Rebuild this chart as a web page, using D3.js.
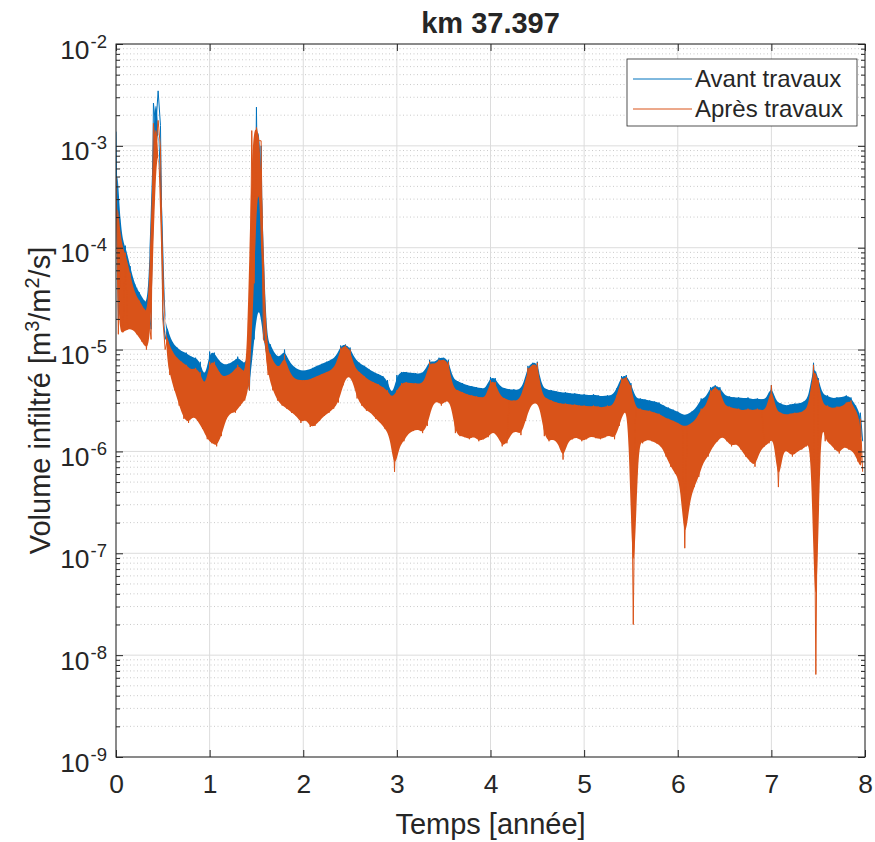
<!DOCTYPE html>
<html>
<head>
<meta charset="utf-8">
<script src="https://cdn.jsdelivr.net/npm/d3@7"></script>
<style>
  body { margin: 0; background: #fff; }
  text { font-family: "Liberation Sans", Arial, sans-serif; fill: #262626; }
</style>
</head>
<body>
<svg id="chart" width="875" height="842"></svg>
<script>
// Time axis: one bin every 0.05 year, from 0 to 8 years
const binWidth = 0.05;
const nBins = 160;

// log10 of the infiltrated volume [m3/m2/s], per-bin extremes (max, min)
const avantLogMax = [
  -2.86, -3.88, -3.98, -4.18, -4.36, -4.44, -4.52, -4.58, -2.58, -2.46,
  -4.62, -4.80, -4.93, -4.98, -5.02, -5.03, -5.07, -5.08, -5.12, -5.30,
  -5.02, -5.03, -5.11, -5.15, -5.14, -5.12, -5.07, -5.12, -5.15, -4.65,
  -2.62, -3.00, -4.88, -4.95, -5.05, -5.08, -5.00, -5.12, -5.17, -5.20,
  -5.21, -5.20, -5.18, -5.16, -5.14, -5.12, -5.10, -5.07, -4.96, -4.95,
  -4.98, -5.09, -5.13, -5.16, -5.19, -5.22, -5.24, -5.26, -5.30, -5.47,
  -5.25, -5.22, -5.22, -5.23, -5.23, -5.24, -5.21, -5.10, -5.13, -5.08,
  -5.08, -5.10, -5.29, -5.31, -5.33, -5.35, -5.36, -5.37, -5.38, -5.38,
  -5.27, -5.28, -5.36, -5.38, -5.39, -5.39, -5.40, -5.35, -5.16, -5.13,
  -5.12, -5.37, -5.39, -5.40, -5.41, -5.42, -5.42, -5.43, -5.43, -5.44,
  -5.44, -5.45, -5.44, -5.45, -5.46, -5.45, -5.45, -5.38, -5.26, -5.25,
  -5.33, -5.48, -5.48, -5.49, -5.50, -5.51, -5.52, -5.55, -5.57, -5.59,
  -5.61, -5.64, -5.64, -5.61, -5.57, -5.48, -5.47, -5.37, -5.35, -5.37,
  -5.45, -5.46, -5.47, -5.47, -5.48, -5.47, -5.49, -5.48, -5.49, -5.48,
  -5.35, -5.51, -5.53, -5.55, -5.54, -5.53, -5.53, -5.51, -5.47, -5.13,
  -5.28, -5.45, -5.45, -5.48, -5.47, -5.47, -5.45, -5.47, -5.55, -5.62
];
const avantLogMin = [
  -4.70, -4.70, -4.65, -4.68, -4.72, -4.78, -4.85, -4.80, -2.82, -2.80,
  -4.90, -5.12, -5.25, -5.30, -5.35, -5.38, -5.40, -5.40, -5.45, -5.55,
  -5.40, -5.42, -5.42, -5.45, -5.42, -5.40, -5.38, -5.40, -5.40, -4.90,
  -4.50, -4.90, -5.15, -5.25, -5.32, -5.35, -5.35, -5.40, -5.45, -5.48,
  -5.48, -5.50, -5.48, -5.45, -5.42, -5.40, -5.38, -5.35, -5.25, -5.20,
  -5.22, -5.35, -5.40, -5.42, -5.45, -5.48, -5.50, -5.52, -5.55, -5.65,
  -5.55, -5.50, -5.50, -5.50, -5.50, -5.52, -5.50, -5.40, -5.38, -5.38,
  -5.38, -5.40, -5.55, -5.58, -5.60, -5.62, -5.62, -5.64, -5.64, -5.64,
  -5.55, -5.58, -5.62, -5.64, -5.65, -5.65, -5.66, -5.62, -5.45, -5.42,
  -5.42, -5.65, -5.66, -5.68, -5.68, -5.70, -5.70, -5.70, -5.70, -5.72,
  -5.72, -5.72, -5.72, -5.73, -5.73, -5.72, -5.73, -5.65, -5.55, -5.55,
  -6.40, -5.75, -5.76, -5.76, -5.77, -5.78, -5.80, -5.82, -5.85, -5.88,
  -5.90, -5.92, -5.92, -5.90, -5.86, -5.78, -5.76, -5.70, -5.68, -5.70,
  -5.74, -5.75, -5.76, -5.76, -5.78, -5.78, -5.80, -5.78, -5.78, -5.77,
  -5.70, -5.80, -5.82, -5.84, -5.83, -5.82, -5.82, -5.80, -5.76, -5.50,
  -5.55, -5.74, -5.75, -5.78, -5.78, -5.77, -5.76, -5.78, -5.85, -5.90
];
const apresLogMax = [
  -3.31, -3.95, -4.05, -4.25, -4.45, -4.52, -4.60, -4.68, -2.78, -2.75,
  -4.70, -4.90, -5.02, -5.08, -5.12, -5.15, -5.20, -5.18, -5.22, -5.38,
  -5.12, -5.12, -5.22, -5.27, -5.25, -5.22, -5.15, -5.20, -5.25, -2.85,
  -2.82, -2.95, -4.95, -5.05, -5.15, -5.18, -5.05, -5.22, -5.28, -5.30,
  -5.30, -5.30, -5.28, -5.26, -5.24, -5.22, -5.20, -5.15, -4.98, -4.96,
  -5.00, -5.18, -5.22, -5.26, -5.30, -5.32, -5.34, -5.37, -5.40, -5.48,
  -5.40, -5.33, -5.32, -5.33, -5.33, -5.34, -5.30, -5.12, -5.15, -5.10,
  -5.10, -5.12, -5.38, -5.40, -5.42, -5.44, -5.45, -5.46, -5.47, -5.47,
  -5.30, -5.32, -5.45, -5.48, -5.50, -5.50, -5.50, -5.40, -5.18, -5.15,
  -5.13, -5.45, -5.48, -5.50, -5.52, -5.53, -5.53, -5.54, -5.54, -5.55,
  -5.55, -5.56, -5.55, -5.56, -5.57, -5.55, -5.56, -5.45, -5.28, -5.27,
  -5.35, -5.58, -5.58, -5.60, -5.60, -5.62, -5.63, -5.66, -5.68, -5.70,
  -5.72, -5.75, -5.75, -5.72, -5.68, -5.58, -5.56, -5.40, -5.37, -5.40,
  -5.55, -5.56, -5.58, -5.58, -5.60, -5.58, -5.60, -5.58, -5.60, -5.58,
  -5.35, -5.60, -5.62, -5.64, -5.63, -5.62, -5.62, -5.60, -5.55, -5.15,
  -5.30, -5.55, -5.55, -5.58, -5.56, -5.56, -5.52, -5.50, -5.60, -5.68
];
const apresLogMin = [
  -4.85, -4.83, -4.80, -4.80, -4.85, -4.92, -5.00, -4.90, -3.05, -3.02,
  -5.00, -5.25, -5.40, -5.55, -5.68, -5.72, -5.65, -5.70, -5.78, -5.88,
  -5.92, -5.95, -5.85, -5.68, -5.62, -5.62, -5.55, -5.50, -5.40, -4.35,
  -2.95, -4.90, -5.25, -5.40, -5.50, -5.55, -5.58, -5.62, -5.65, -5.72,
  -5.68, -5.76, -5.75, -5.70, -5.65, -5.62, -5.58, -5.52, -5.35, -5.25,
  -5.30, -5.48, -5.55, -5.60, -5.62, -5.68, -5.72, -5.78, -5.85, -6.20,
  -5.95, -5.90, -5.82, -5.80, -5.78, -5.82, -5.75, -5.55, -5.50, -5.55,
  -5.50, -5.52, -5.82, -5.85, -5.86, -5.88, -5.85, -5.90, -5.88, -5.86,
  -5.80, -5.85, -5.95, -5.92, -5.82, -5.80, -5.84, -5.70, -5.55, -5.52,
  -5.55, -5.85, -5.90, -5.88, -5.92, -6.08, -5.90, -5.88, -5.86, -5.90,
  -5.88, -5.85, -5.87, -5.88, -5.86, -5.84, -5.88, -5.75, -5.60, -5.62,
  -7.70, -5.90, -5.92, -5.88, -5.90, -5.92, -5.95, -6.05, -6.15, -6.22,
  -6.30, -6.95, -6.50, -6.35, -6.25, -6.10, -6.05, -5.95, -5.90, -5.85,
  -5.90, -5.95, -5.92, -5.98, -6.05, -6.10, -6.15, -6.00, -5.95, -5.92,
  -5.85, -6.35, -5.98, -6.00, -6.05, -6.00, -5.98, -5.95, -5.90, -8.19,
  -5.62, -5.90, -5.92, -5.98, -6.02, -5.95, -5.98, -6.00, -6.10, -6.20
];

const xTicks = [0, 1, 2, 3, 4, 5, 6, 7, 8];
const yDecades = [-9, -8, -7, -6, -5, -4, -3, -2];
const seriesNames = ["Avant travaux", "Après travaux"];
const seriesColors = ["#0072BD", "#D95319"];

const m = { left: 116, right: 865, top: 44, bottom: 757 };

const svg = d3.select("#chart");
const x = d3.scaleLinear().domain([0, 8]).range([m.left, m.right]);
const y = d3.scaleLog().domain([1e-9, 1e-2]).range([m.bottom, m.top]);

const majorY = yDecades.map(e => Math.pow(10, e));
const minorY = [];
yDecades.slice(0, -1).forEach(e => {
  for (let k = 2; k <= 9; k++) minorY.push(k * Math.pow(10, e));
});

// grid
const grid = svg.append("g");
grid.selectAll(".gmin").data(minorY).join("line")
  .attr("x1", m.left).attr("x2", m.right)
  .attr("y1", d => y(d)).attr("y2", d => y(d))
  .attr("stroke", "#bdbdbd").attr("stroke-width", 0.8)
  .attr("stroke-dasharray", "1,2.5");
grid.selectAll(".gmaj").data(majorY).join("line")
  .attr("x1", m.left).attr("x2", m.right)
  .attr("y1", d => y(d)).attr("y2", d => y(d))
  .attr("stroke", "#dcdcdc").attr("stroke-width", 1);
grid.selectAll(".gx").data(xTicks).join("line")
  .attr("x1", d => x(d)).attr("x2", d => x(d))
  .attr("y1", m.top).attr("y2", m.bottom)
  .attr("stroke", "#dcdcdc").attr("stroke-width", 1);

// trace: each bin contributes its max then its min, half a bin apart
function binPoints(maxArr, minArr) {
  const pts = [];
  for (let i = 0; i < nBins; i++) {
    const t = i * binWidth;
    pts.push([t, Math.pow(10, maxArr[i])]);
    pts.push([t + binWidth / 2, Math.pow(10, minArr[i])]);
  }
  return pts;
}
// envelope outline: max points forward, min points backward
function bandPoints(maxArr, minArr) {
  const upper = [], lower = [];
  for (let i = 0; i < nBins; i++) {
    const t = i * binWidth;
    upper.push([t, Math.pow(10, maxArr[i])]);
    lower.push([t + binWidth / 2, Math.pow(10, minArr[i])]);
  }
  return upper.concat(lower.reverse());
}
const series = [
  { trace: binPoints(avantLogMax, avantLogMin), band: bandPoints(avantLogMax, avantLogMin) },
  { trace: binPoints(apresLogMax, apresLogMin), band: bandPoints(apresLogMax, apresLogMin) }
];

svg.append("clipPath").attr("id", "plotclip")
  .append("rect").attr("x", m.left).attr("y", m.top)
  .attr("width", m.right - m.left).attr("height", m.bottom - m.top);

const line = d3.line().x(d => x(d[0])).y(d => y(d[1]));
// dense core of the signal: a smoothed outline that stays inside the extremes
const core = d3.line().x(d => x(d[0])).y(d => y(d[1])).curve(d3.curveBasisClosed);
const plot = svg.append("g").attr("clip-path", "url(#plotclip)");
series.forEach((s, i) => {
  plot.append("path")
    .attr("d", core(s.band))
    .attr("fill", seriesColors[i])
    .attr("stroke", "none");
  plot.append("path")
    .attr("d", line(s.trace))
    .attr("fill", "none")
    .attr("stroke", seriesColors[i])
    .attr("stroke-width", 1)
    .attr("stroke-linejoin", "round");
});

// axes
const axisColor = "#262626";
function styleAxis(g) {
  g.select(".domain").remove();
  g.selectAll(".tick line").attr("stroke", axisColor).attr("stroke-width", 1);
}
svg.append("g").attr("transform", `translate(0,${m.bottom})`)
  .call(d3.axisBottom(x).tickValues(xTicks).tickSize(-7).tickFormat(d3.format("d")))
  .call(styleAxis)
  .call(g => g.selectAll("text").attr("font-size", 26.4).attr("fill", axisColor)
    .attr("dy", null).attr("y", 36));
svg.append("g").attr("transform", `translate(0,${m.top})`)
  .call(d3.axisTop(x).tickValues(xTicks).tickSize(-7).tickFormat(""))
  .call(styleAxis);

const yLeft = svg.append("g").attr("transform", `translate(${m.left},0)`)
  .call(d3.axisLeft(y).tickValues(majorY).tickSize(-7).tickPadding(9).tickFormat(""))
  .call(styleAxis);
yLeft.selectAll(".tick text")
  .attr("font-size", 26.4).attr("fill", axisColor).attr("dy", null).attr("y", 14)
  .attr("text-anchor", "end")
  .each(function (d) {
    const t = d3.select(this);
    t.append("tspan").text("10");
    t.append("tspan").attr("font-size", 18.5).attr("dy", -11).attr("dx", 1)
      .text(String(Math.round(Math.log10(d))));
  });
svg.append("g").attr("transform", `translate(${m.left},0)`)
  .call(d3.axisLeft(y).tickValues(minorY).tickSize(-4).tickFormat(""))
  .call(styleAxis);
svg.append("g").attr("transform", `translate(${m.right},0)`)
  .call(d3.axisRight(y).tickValues(majorY).tickSize(-7).tickFormat(""))
  .call(styleAxis);
svg.append("g").attr("transform", `translate(${m.right},0)`)
  .call(d3.axisRight(y).tickValues(minorY).tickSize(-4).tickFormat(""))
  .call(styleAxis);

// box
svg.append("rect").attr("x", m.left).attr("y", m.top)
  .attr("width", m.right - m.left).attr("height", m.bottom - m.top)
  .attr("fill", "none").attr("stroke", axisColor).attr("stroke-width", 1);

// title and labels
svg.append("text").attr("x", (m.left + m.right) / 2).attr("y", 33)
  .attr("text-anchor", "middle").attr("font-size", 29).attr("font-weight", "bold")
  .text("km 37.397");
svg.append("text").attr("x", (m.left + m.right) / 2).attr("y", 834)
  .attr("text-anchor", "middle").attr("font-size", 29)
  .text("Temps [année]");
const yl = svg.append("text")
  .attr("transform", `translate(50,${(m.top + m.bottom) / 2}) rotate(-90)`)
  .attr("text-anchor", "middle").attr("font-size", 29);
yl.append("tspan").text("Volume infiltré [m");
yl.append("tspan").attr("dy", -11).attr("font-size", 20).text("3");
yl.append("tspan").attr("dy", 11).text("/m");
yl.append("tspan").attr("dy", -11).attr("font-size", 20).text("2");
yl.append("tspan").attr("dy", 11).text("/s]");

// legend
const lg = svg.append("g");
lg.append("rect").attr("x", 627).attr("y", 59).attr("width", 230).attr("height", 67)
  .attr("fill", "#fff").attr("stroke", axisColor).attr("stroke-width", 0.8);
seriesNames.forEach((name, i) => {
  const cy = 79 + i * 30;
  lg.append("line").attr("x1", 633).attr("x2", 692).attr("y1", cy).attr("y2", cy)
    .attr("stroke", seriesColors[i]).attr("stroke-width", 1);
  lg.append("text").attr("x", 695).attr("y", cy + 8).attr("font-size", 24).text(name);
});
</script>
</body>
</html>
